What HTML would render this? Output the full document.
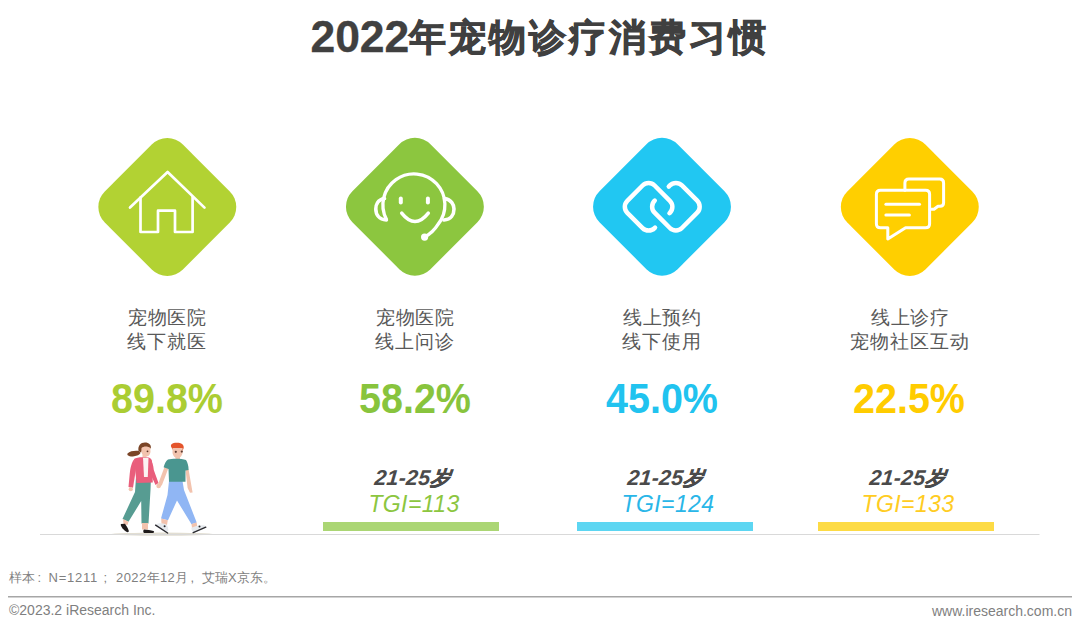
<!DOCTYPE html>
<html><head><meta charset="utf-8">
<style>
html,body{margin:0;padding:0;background:#fff;}
body{width:1080px;height:631px;position:relative;overflow:hidden;font-family:"Liberation Sans",sans-serif;}
.abs{position:absolute;white-space:nowrap;}
.title{left:310.5px;top:12px;font-size:40px;line-height:50px;font-weight:bold;color:#404040;}
.title .d{font-size:44.5px;letter-spacing:-0.1px;-webkit-text-stroke:0.3px #404040;position:relative;top:-0.5px;}
.title .c{font-size:37px;letter-spacing:3px;-webkit-text-stroke:0.9px #404040;position:relative;top:-2.5px;}
.dia{position:absolute;top:0;left:0;}
.lab{width:200px;text-align:center;font-size:19px;line-height:24px;color:#595959;top:306px;letter-spacing:0.85px;text-indent:0.85px;}
.pct{width:200px;text-align:center;font-size:42px;line-height:46px;font-weight:bold;top:375.5px;transform:scaleX(0.94);}
.age{width:200px;text-align:center;font-size:21.5px;line-height:24px;font-weight:bold;font-style:italic;color:#4a4a4a;top:465.5px;letter-spacing:0.2px;transform:skewX(-5deg);transform-origin:50% 80%;}
.age b{-webkit-text-stroke:0.5px #4a4a4a;font-weight:bold;font-size:20px;}
.tgi{width:200px;text-align:center;font-size:23px;line-height:26px;font-style:italic;top:490.5px;letter-spacing:0.4px;}
.bar{position:absolute;top:522px;height:9px;width:176px;}
.foot{font-size:12.5px;color:#7f7f7f;}
.fn{top:570px;font-size:13px;line-height:16px;}
</style></head><body>
<div class="abs title"><span class="d">2022</span><span class="c">年宠物诊疗消费习惯</span></div>

<svg class="dia" width="1080" height="631" viewBox="0 0 1080 631">
  <rect x="-55.2" y="-55.2" width="110.4" height="110.4" rx="22" ry="22" transform="translate(167.3 207) rotate(45)" fill="#B2D233"/>
  <rect x="-55.2" y="-55.2" width="110.4" height="110.4" rx="22" ry="22" transform="translate(414.9 206.7) rotate(45)" fill="#8CC63F"/>
  <rect x="-55.2" y="-55.2" width="110.4" height="110.4" rx="22" ry="22" transform="translate(662 206.7) rotate(45)" fill="#21C7F2"/>
  <rect x="-55.2" y="-55.2" width="110.4" height="110.4" rx="22" ry="22" transform="translate(909.8 207) rotate(45)" fill="#FFCF00"/>
  <!-- house -->
  <g fill="none" stroke="#fff" stroke-width="2.7" stroke-linecap="round" stroke-linejoin="round">
    <path d="M130 207.6 L167.6 172 L204.5 207.6"/>
    <path d="M140.5 197.5 V232 H158 V210.7 H175 V232 H192.6 V197"/>
  </g>
  <!-- headset smiley -->
  <g fill="none" stroke="#fff" stroke-width="3.3" stroke-linecap="round" stroke-linejoin="round">
    <path d="M386.4 219.2 A31 31 0 1 1 438 224.4 Q433 232.5 424.6 237.1"/>
    <path d="M384.5 198.5 C377.5 199.5 375.8 205 375.8 209 C375.8 214.5 379 219.5 386.4 220" stroke-width="3.6"/>
    <path d="M444.5 198.5 C451.5 199.5 454 205 454 209 C454 214.5 451 219.5 444 220" stroke-width="3.6"/>
    <path d="M400.8 198.5 V202.5" stroke-width="4"/>
    <path d="M427.9 198.5 V202.5" stroke-width="4"/>
    <path d="M401.7 213.2 Q415 230 428.3 213.2" stroke-width="3.5"/>
  </g>
  <circle cx="424.6" cy="237.1" r="3.6" fill="#fff"/>
  <!-- chain -->
  <g fill="none" stroke="#fff" stroke-width="4.5" stroke-linecap="round" stroke-linejoin="round">
    <path transform="translate(648.6 206.8) rotate(45)" d="M19.3 10.2 V10.8 A8.5 8.5 0 0 1 10.8 19.3 H-10.8 A8.5 8.5 0 0 1 -19.3 10.8 V-10.8 A8.5 8.5 0 0 1 -10.8 -19.3 H10.8 A8.5 8.5 0 0 1 19.3 -10.8 V-10.2"/>
    <path transform="translate(675.9 206.7) rotate(45)" d="M-19.3 -9.2 V-10.8 A8.5 8.5 0 0 1 -10.8 -19.3 H10.8 A8.5 8.5 0 0 1 19.3 -10.8 V10.8 A8.5 8.5 0 0 1 10.8 19.3 H-10.8 A8.5 8.5 0 0 1 -19.3 10.8 V10.6"/>
  </g>
  <!-- chat -->
  <g fill="none" stroke="#fff" stroke-width="3" stroke-linecap="round" stroke-linejoin="round">
    <path d="M880.4 190.3 H925.6 Q929.6 190.3 929.6 194.3 V223.7 Q929.6 227.7 925.6 227.7 H905.6 L887.8 239 V227.7 H880.4 Q876.4 227.7 876.4 223.7 V194.3 Q876.4 190.3 880.4 190.3 Z"/>
    <path d="M904.9 190.3 V183 Q904.9 179 908.9 179 H939.8 Q943.6 179 943.6 183 V202.8 Q943.6 206.3 940 206.3 H938 L934 209.3 H930"/>
    <path d="M885.9 204.2 H919.5"/>
    <path d="M885.9 215 H909.4"/>
  </g>
  <!-- couple -->
  <ellipse cx="162" cy="534.2" rx="51" ry="1.6" fill="#E2DED2"/>
  <g>
    <!-- woman -->
    <path d="M139 451 C135 450.5 130 451 127.5 453.5 C126.5 455.5 130 457 134 456.3 C137 455.8 139.5 455 140.5 453 Z" fill="#7A4527"/>
    <path d="M138.5 451 C137.8 445.5 140.5 442.5 145 442.5 C149 442.5 151.5 445 150.8 448.5 L147.5 447.5 C145 447.5 142.5 449.5 141 452.5 Z" fill="#7A4527"/>
    <path d="M141.5 448 C143.5 446 148 446 150.3 448 L150.5 452 C150 455 148.3 456.6 145.8 456.6 C143.3 456.6 141.8 454.5 141.3 451.5 Z" fill="#F2C3AE"/>
    <circle cx="147.5" cy="451.3" r="0.9" fill="#5A3025"/>
    <rect x="142.5" y="455" width="4" height="4" fill="#F2C3AE"/>
    <path d="M128.5 487 L133 487.8 L135.8 470 L134.5 459 C131.5 462 130.3 468 129.7 474 Z" fill="#E95E7C"/>
    <circle cx="130.8" cy="489.2" r="2.1" fill="#F2C3AE"/>
    <path d="M150 459 C152.3 461 153.3 465 153.8 470 L158.5 483 L155.5 485 L150 473 Z" fill="#E95E7C"/>
    <circle cx="158.6" cy="486" r="2.3" fill="#F2C3AE"/>
    <path d="M122.5 519 L135 492 L136 477 L151 477 L150.5 490 L148.5 523.5 L141.5 523.5 L141.2 501 L128.5 521.8 Z" fill="#579C92"/>
    <path d="M134 459 C136 457.5 141 457 144 457.3 L148 457.3 C150 457.8 151.5 459 152 461 L152.8 482.5 L136.5 483 Z" fill="#E95E7C"/>
    <path d="M143 457.8 L148.5 457.8 L147.8 477 L144 477 Z" fill="#FBF3F2"/>
    <path d="M123 519 L128.5 521.8 L127.5 525 L123.5 524 Z" fill="#F2C3AE"/>
    <rect x="142" y="523" width="6" height="6.5" fill="#F2C3AE"/>
    <path d="M121 524 C120 525.2 122 528.5 126 531.6 C127.6 532.6 129.2 532.2 128.7 530.5 C127.7 528 126.2 525.5 125 523.8 Z" fill="#1E1A1A"/>
    <path d="M144 529.5 C147 529.8 151 530.3 153.5 531 C154.6 531.5 154.2 533 152.6 533 L144 533 C143 532.5 143 530 144 529.5 Z" fill="#1E1A1A"/>
    <!-- man -->
    <path d="M171 446.5 C170.3 443.5 174 442.5 177 442.8 C181 442.8 184.2 444.5 183.7 448 L182.7 450.5 L172.5 449.5 Z" fill="#E4542B"/>
    <path d="M172.5 448 L182.6 448 L182.6 453 C182 456 180 458 177.5 458 C175 458 173 456 172.5 453 Z" fill="#F2C3AE"/>
    <circle cx="175.8" cy="451.8" r="1.1" fill="#5A3A30"/>
    <circle cx="181.8" cy="451.6" r="1.1" fill="#5A3A30"/>
    <rect x="175.5" y="455" width="4.5" height="5" fill="#F2C3AE"/>
    <path d="M164.5 467 L168.3 468.5 L162 485 L159.2 487.8 L157.6 485.6 Z" fill="#F2C3AE"/>
    <path d="M185.5 469.5 L188.6 469.5 L191.8 488 L192.6 492.5 L190 492.8 L187.6 488 Z" fill="#F2C3AE"/>
    <path d="M169 481 L182.5 481 L184 490 L196.7 522.5 L191.5 524.2 L177 500.5 L168 520.2 L161 518.6 L167.5 495 Z" fill="#90B6F4"/>
    <path d="M168 459.5 C172 458.5 182 458.5 186 460 C187.6 462.5 188.6 466 188.6 470 L185.5 470.5 L185.5 481.7 L169 481.7 L168.5 469 L163.6 467.2 C164.6 463.5 166 461 168 459.5 Z" fill="#4A9690"/>
    <path d="M161.2 518.6 L167.8 520.2 L167 525 L161.5 524 Z" fill="#F2C3AE"/>
    <path d="M191.5 524 L196.7 522.5 L197.2 527 L192 528 Z" fill="#F2C3AE"/>
    <path d="M156 524.5 C158 523 162 522.8 166 524.2 C168 526 168.6 529 168.2 531 L166.2 532.2 C162 530 158 527.5 156 524.5 Z" fill="#E6EAEE"/>
    <path d="M155.6 525.2 L167.6 533" stroke="#2B2B30" stroke-width="1.4" stroke-linecap="round"/>
    <circle cx="164.6" cy="526.3" r="1" fill="#2B2B30"/>
    <path d="M191.5 527.8 C194 526.6 199 525 203.5 525.3 C205.6 525.4 206.2 527 205.2 528.2 L194.2 532.6 C192.6 532.2 191 529.2 191.5 527.8 Z" fill="#E6EAEE"/>
    <path d="M193.2 532.6 L205.8 527.2" stroke="#2B2B30" stroke-width="1.4" stroke-linecap="round"/>
    <circle cx="199.5" cy="526.4" r="1" fill="#2B2B30"/>
  </g>
  <!-- baseline -->
  <rect x="40" y="534" width="999.5" height="1" fill="#d9d9d9"/>
  <!-- footer line -->
  <rect x="8" y="596" width="1064" height="1.5" fill="#a6a6a6"/>
</svg>

<div class="abs lab" style="left:67px">宠物医院<br>线下就医</div>
<div class="abs lab" style="left:315px">宠物医院<br>线上问诊</div>
<div class="abs lab" style="left:562px">线上预约<br>线下使用</div>
<div class="abs lab" style="left:810px">线上诊疗<br>宠物社区互动</div>

<div class="abs pct" style="left:67px;color:#ABCD33">89.8%</div>
<div class="abs pct" style="left:315px;color:#88C43D">58.2%</div>
<div class="abs pct" style="left:562px;color:#21C3EF">45.0%</div>
<div class="abs pct" style="left:809px;color:#FFCC00">22.5%</div>

<div class="abs age" style="left:312px">21-25<b>岁</b></div>
<div class="abs age" style="left:565px">21-25<b>岁</b></div>
<div class="abs age" style="left:807px">21-25<b>岁</b></div>
<div class="abs tgi" style="left:314px;color:#8CC63F">TGI=113</div>
<div class="abs tgi" style="left:568px;color:#29B6E8">TGI=124</div>
<div class="abs tgi" style="left:808px;color:#FFCC22">TGI=133</div>

<div class="bar" style="left:323px;background:#ABD674"></div>
<div class="bar" style="left:577px;background:#5DD6F2"></div>
<div class="bar" style="left:818px;background:#FDDB45"></div>

<div class="abs foot fn" style="left:9px">样本</div><div class="abs foot fn" style="left:37.5px">:</div><div class="abs foot fn" style="left:48.5px;letter-spacing:0.75px">N=1211</div><div class="abs foot fn" style="left:103.5px">;</div><div class="abs foot fn" style="left:116px;letter-spacing:0.4px">2022年12月</div><div class="abs foot fn" style="left:190.5px">,</div><div class="abs foot fn" style="left:202px">艾瑞X京东。</div>
<div class="abs foot" style="left:9px;top:602px;font-size:14px">©2023.2 iResearch Inc.</div>
<div class="abs foot" style="right:8px;top:602.5px;font-size:14px">www.iresearch.com.cn</div>
</body></html>
